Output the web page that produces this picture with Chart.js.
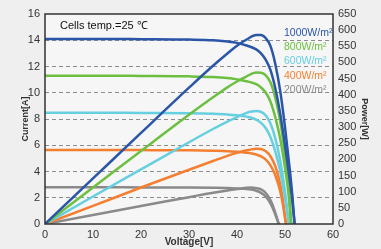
<!DOCTYPE html>
<html>
<head>
<meta charset="utf-8">
<script src="https://cdn.jsdelivr.net/npm/chart.js@4.4.1/dist/chart.umd.min.js"></script>
<style>
  html, body { margin: 0; padding: 0; background: #efefef; }
  canvas { display: block; }
</style>
</head>
<body>
<canvas id="ivChart" width="381" height="249"></canvas>
<script>
// Curvas I-V e P-V por irradiancia
var labels = ["1000W/m²", "800W/m²", "600W/m²", "400W/m²", "200W/m²"];
var colors = ["#2b56a8", "#6cbf40", "#66cfe0", "#f47f31", "#8a8a8a"];

var v1000 = [0, 10, 20, 30, 35, 38, 40, 42, 44, 45, 46, 47, 48, 49, 50, 51, 51.5, 52];
var i1000 = [14.1, 14.1, 14.08, 14.05, 14.0, 13.9, 13.8, 13.6, 13.3, 13.0, 12.5, 11.7, 10.3, 8.4, 6.0, 3.3, 1.8, 0];
var p1000 = [0, 141, 282, 422, 490, 528, 552, 571, 585, 585, 575, 550, 494, 412, 300, 168, 93, 0];

var v800 = [0, 10, 20, 30, 35, 38, 40, 42, 44, 45, 46, 47, 48, 49, 50, 50.7, 51.3];
var i800 = [11.3, 11.3, 11.28, 11.25, 11.2, 11.12, 11.02, 10.88, 10.65, 10.4, 10.0, 9.3, 8.1, 6.5, 4.3, 2.4, 0];
var p800 = [0, 113, 226, 338, 392, 423, 441, 457, 469, 468, 460, 437, 389, 319, 215, 122, 0];

var v600 = [0, 10, 20, 30, 35, 38, 40, 42, 43, 44, 45, 46, 47, 48, 49, 50, 50.8];
var i600 = [8.48, 8.48, 8.46, 8.44, 8.4, 8.35, 8.28, 8.18, 8.1, 7.95, 7.7, 7.3, 6.6, 5.5, 4.0, 2.0, 0];
var p600 = [0, 85, 169, 253, 294, 317, 331, 344, 348, 350, 347, 336, 310, 264, 196, 100, 0];

var v400 = [0, 10, 20, 30, 35, 38, 40, 42, 43, 44, 45, 46, 47, 48, 49, 49.6, 50.2];
var i400 = [5.64, 5.64, 5.63, 5.61, 5.58, 5.55, 5.5, 5.43, 5.38, 5.3, 5.15, 4.9, 4.45, 3.7, 2.5, 1.4, 0];
var p400 = [0, 56, 113, 168, 195, 211, 220, 228, 231, 233, 232, 225, 209, 178, 123, 69, 0];

var v200 = [0, 10, 20, 30, 35, 38, 40, 42, 43, 44, 45, 46, 47, 47.8, 48.7];
var i200 = [2.8, 2.8, 2.79, 2.78, 2.76, 2.74, 2.71, 2.67, 2.62, 2.53, 2.37, 2.08, 1.55, 0.9, 0];
var p200 = [0, 28, 56, 83, 97, 104, 108, 112, 113, 111, 107, 96, 73, 43, 0];

var xTicks = [0, 10, 20, 30, 40, 50, 60];
var yTicks = [0, 2, 4, 6, 8, 10, 12, 14, 16];
var pTicks = [0, 50, 100, 150, 200, 250, 300, 350, 400, 450, 500, 550, 600, 650];

var voltages = [v1000, v800, v600, v400, v200];
var currents = [i1000, i800, i600, i400, i200];
var powers = [p1000, p800, p600, p400, p200];

function pts(xs, ys) {
  return xs.map(function(x, k) { return { x: x, y: ys[k] }; });
}

var datasets = [];
labels.forEach(function(label, idx) {
  datasets.push({
    label: label + " I",
    data: pts(voltages[idx], currents[idx]),
    borderColor: colors[idx],
    yAxisID: "y"
  });
  datasets.push({
    label: label + " P",
    data: pts(voltages[idx], powers[idx]),
    borderColor: colors[idx],
    yAxisID: "y1"
  });
});

var tickFont = { family: "Liberation Sans, Arial, sans-serif", size: 11 };
var titleFont = { family: "Liberation Sans, Arial, sans-serif", size: 9, weight: "bold" };

// fundo + moldura + textos
var decor = {
  id: "decor",
  beforeDraw: function(chart) {
    var c = chart.ctx, a = chart.chartArea;
    c.save();
    c.fillStyle = "#efefef";
    c.fillRect(0, 0, chart.width, chart.height);
    c.fillStyle = "#f6f6f6";
    c.fillRect(a.left, a.top, a.right - a.left, a.bottom - a.top);
    c.restore();
  },
  afterDatasetsDraw: function(chart) {
    var c = chart.ctx, a = chart.chartArea;
    c.save();
    c.strokeStyle = "#333";
    c.lineWidth = 1.5;
    c.strokeRect(a.left, a.top, a.right - a.left, a.bottom - a.top);
    c.font = "11px Liberation Sans, Arial, sans-serif";
    c.textBaseline = "middle";
    c.fillStyle = "#111";
    c.fillText("Cells temp.=25 ℃", a.left + 15, a.top + 12);
    c.font = "10.5px Liberation Sans, Arial, sans-serif";
    labels.forEach(function(label, idx) {
      c.fillStyle = colors[idx];
      c.fillText(label, a.right - 49, a.top + 19 + idx * 14.3);
    });
    c.restore();
  }
};

var ctx = document.getElementById("ivChart").getContext("2d");
var chart = new Chart(ctx, {
  type: "line",
  data: { datasets: datasets },
  options: {
    responsive: false,
    animation: false,
    devicePixelRatio: 1,
    layout: { padding: { top: 14, left: 0, right: 0, bottom: 0 } },
    elements: {
      point: { radius: 0 },
      line: { borderWidth: 2.5, cubicInterpolationMode: "monotone", fill: false }
    },
    plugins: { legend: { display: false }, tooltip: { enabled: false } },
    scales: {
      x: {
        type: "linear", min: 0, max: 60,
        afterBuildTicks: function(s) { s.ticks = xTicks.map(function(v) { return { value: v }; }); },
        afterFit: function(s) { s.height = 25; },
        grid: { display: false, drawTicks: false },
        border: { display: false },
        ticks: { font: tickFont, color: "#333", padding: 4, maxRotation: 0, autoSkip: false },
        title: { display: true, text: "Voltage[V]", font: { family: "Liberation Sans, Arial, sans-serif", size: 10, weight: "bold" }, color: "#333", padding: { top: 0, bottom: 1 } }
      },
      y: {
        position: "left", min: 0, max: 16,
        afterBuildTicks: function(s) { s.ticks = yTicks.map(function(v) { return { value: v }; }); },
        afterFit: function(s) { s.width = 45; },
        grid: {
          drawTicks: false,
          color: function(c) { return (c.tick && (c.tick.value === 0 || c.tick.value === 16)) ? "rgba(0,0,0,0)" : "#8c8c8c"; },
          lineWidth: 1
        },
        border: { display: false, dash: [4, 3] },
        ticks: { font: tickFont, color: "#333", padding: 5, autoSkip: false },
        title: { display: true, text: "Current[A]", font: titleFont, color: "#333", padding: { top: 20, bottom: 0 } }
      },
      y1: {
        position: "right", min: 0, max: 650,
        afterBuildTicks: function(s) { s.ticks = pTicks.map(function(v) { return { value: v }; }); },
        afterFit: function(s) { s.width = 48; },
        grid: { display: false, drawTicks: false },
        border: { display: false },
        ticks: { font: tickFont, color: "#333", padding: 5, autoSkip: false },
        title: { display: true, text: "Power[W]", font: titleFont, color: "#333", padding: { top: 11, bottom: 0 } }
      }
    }
  },
  plugins: [decor]
});
</script>
</body>
</html>
